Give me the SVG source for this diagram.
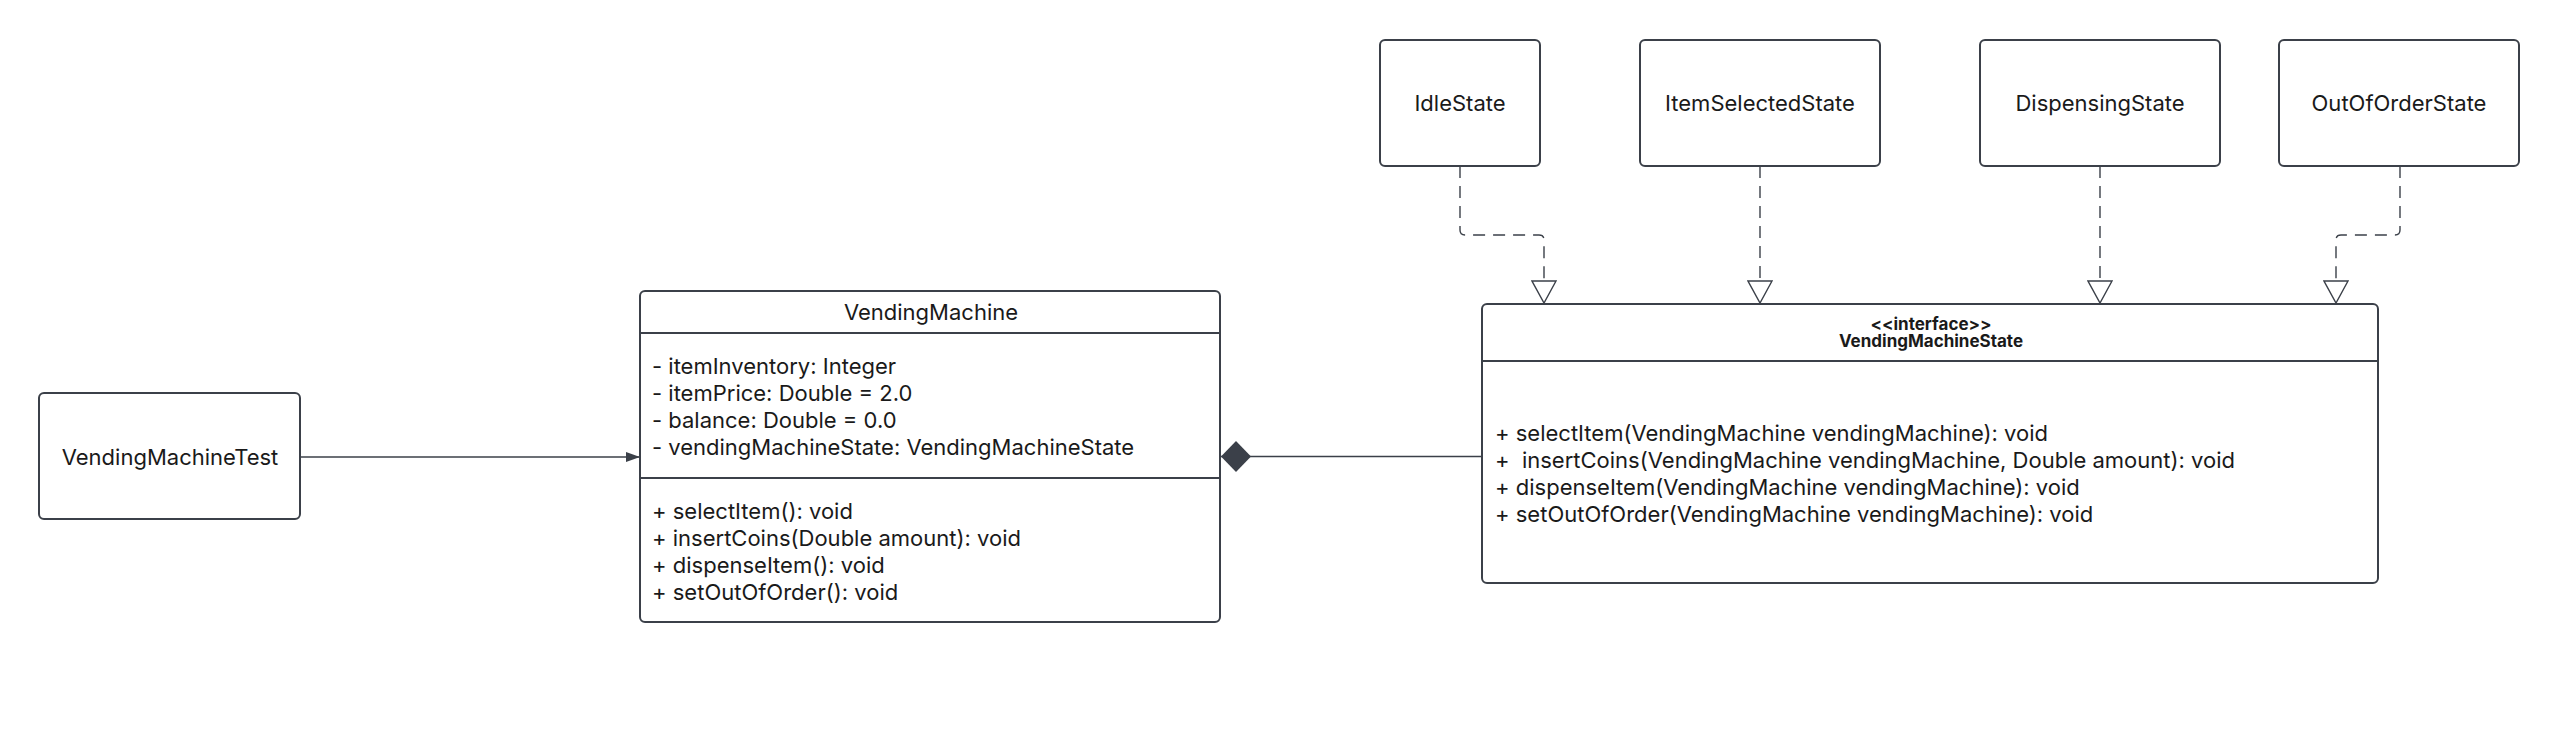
<svg xmlns="http://www.w3.org/2000/svg" width="2560" height="740" viewBox="0 0 2560 740">
<style>
.box{fill:#ffffff;stroke:#3b4049;stroke-width:2}
.div{stroke:#3b4049;stroke-width:2}
.t{font-family:Inter,"Liberation Sans",sans-serif;font-size:22px;fill:#1a1a1a}
.c{text-anchor:middle;dominant-baseline:central}
.l{dominant-baseline:central}
.b{font-family:Inter,"Liberation Sans",sans-serif;font-size:17px;font-weight:bold;fill:#1a1a1a;text-anchor:middle}
.conn{fill:none;stroke:#3b4049;stroke-width:1.4}
.dash{fill:none;stroke:#3b4049;stroke-width:1.4;stroke-dasharray:12 8}
</style>
<defs>
<marker id="arr" markerWidth="14" markerHeight="10" refX="14" refY="5" orient="auto" markerUnits="userSpaceOnUse">
<path d="M0,0 L14,5 L0,10 Z" fill="#3b4049"/>
</marker>
<marker id="diam" markerWidth="31" markerHeight="31" refX="0" refY="15.5" orient="auto" markerUnits="userSpaceOnUse">
<path d="M0,15.5 L15,0 L30,15.5 L15,31 Z" fill="#3b4049"/>
</marker>
<marker id="tri" markerWidth="27" markerHeight="26" refX="23" refY="12.5" orient="auto" markerUnits="userSpaceOnUse">
<path d="M1,0.5 L23,12.5 L1,24.5 Z" fill="#ffffff" stroke="#3b4049" stroke-width="1.4"/>
</marker>
</defs>

<g id="connectors">
<path class="conn" d="M300,457 L640,457" marker-end="url(#arr)"/>
<path class="conn" d="M1221,456.5 L1482,456.5" marker-start="url(#diam)"/>
<path class="dash" d="M1460,166 L1460,230 Q1460,235 1465,235 L1539,235 Q1544,235 1544,240 L1544,303" marker-end="url(#tri)"/>
<path class="dash" d="M1760,166 L1760,303" marker-end="url(#tri)"/>
<path class="dash" d="M2100,166 L2100,303" marker-end="url(#tri)"/>
<path class="dash" d="M2400,166 L2400,230 Q2400,235 2395,235 L2341,235 Q2336,235 2336,240 L2336,303" marker-end="url(#tri)"/>
</g>

<g id="VendingMachineTest">
<rect class="box" x="39" y="393" width="261" height="126" rx="5"/>
<text class="t c" x="170" y="457">VendingMachineTest</text>
</g>

<g id="VendingMachine">
<rect class="box" x="640" y="291" width="580" height="331" rx="5"/>
<line class="div" x1="640" y1="333" x2="1220" y2="333"/>
<line class="div" x1="640" y1="478" x2="1220" y2="478"/>
<text class="t c" x="931" y="312">VendingMachine</text>
<text class="t l" x="652" y="366">- itemInventory: Integer</text>
<text class="t l" x="652" y="393">- itemPrice: Double = 2.0</text>
<text class="t l" x="652" y="420">- balance: Double = 0.0</text>
<text class="t l" x="652" y="447">- vendingMachineState: VendingMachineState</text>
<text class="t l" x="652" y="511">+ selectItem(): void</text>
<text class="t l" x="652" y="538">+ insertCoins(Double amount): void</text>
<text class="t l" x="652" y="565">+ dispenseItem(): void</text>
<text class="t l" x="652" y="592">+ setOutOfOrder(): void</text>
</g>

<g id="VendingMachineState">
<rect class="box" x="1482" y="304" width="896" height="279" rx="5"/>
<line class="div" x1="1482" y1="361" x2="2378" y2="361"/>
<text class="b" x="1931" y="330">&lt;&lt;interface&gt;&gt;</text>
<text class="b" x="1931" y="347">VendingMachineState</text>
<text class="t l" x="1495" y="433">+ selectItem(VendingMachine vendingMachine): void</text>
<text class="t l" x="1495" y="460" xml:space="preserve">+  insertCoins(VendingMachine vendingMachine, Double amount): void</text>
<text class="t l" x="1495" y="487">+ dispenseItem(VendingMachine vendingMachine): void</text>
<text class="t l" x="1495" y="514">+ setOutOfOrder(VendingMachine vendingMachine): void</text>
</g>

<g id="IdleState">
<rect class="box" x="1380" y="40" width="160" height="126" rx="5"/>
<text class="t c" x="1460" y="103">IdleState</text>
</g>
<g id="ItemSelectedState">
<rect class="box" x="1640" y="40" width="240" height="126" rx="5"/>
<text class="t c" x="1760" y="103">ItemSelectedState</text>
</g>
<g id="DispensingState">
<rect class="box" x="1980" y="40" width="240" height="126" rx="5"/>
<text class="t c" x="2100" y="103">DispensingState</text>
</g>
<g id="OutOfOrderState">
<rect class="box" x="2279" y="40" width="240" height="126" rx="5"/>
<text class="t c" x="2399" y="103">OutOfOrderState</text>
</g>
</svg>
